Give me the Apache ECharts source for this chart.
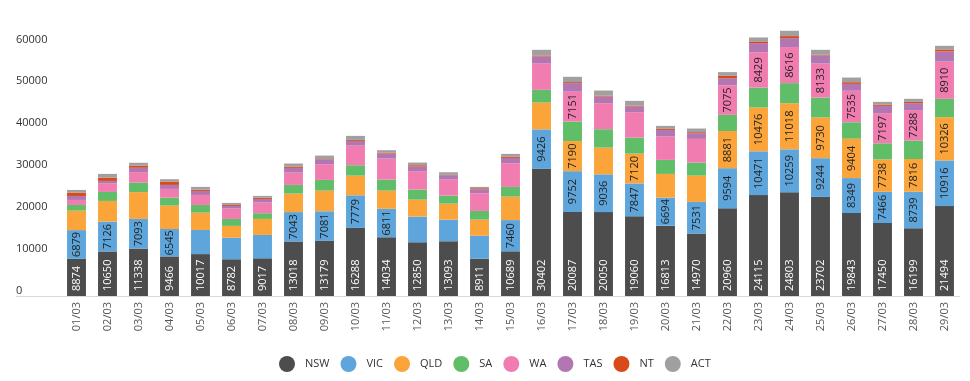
<!DOCTYPE html>
<html>
<head>
<meta charset="utf-8">
<script src="https://cdn.jsdelivr.net/npm/echarts@6/dist/echarts.min.js"></script>
<style>
html,body{margin:0;padding:0;background:#fff;}
#chart{width:970px;height:381px;}
</style>
</head>
<body>
<div id="chart"></div>
<script>
const categories = ['01/03','02/03','03/03','04/03','05/03','06/03','07/03','08/03','09/03','10/03','11/03','12/03','13/03','14/03','15/03','16/03','17/03','18/03','19/03','20/03','21/03','22/03','23/03','24/03','25/03','26/03','27/03','28/03','29/03'];
const NSW = [8874,10650,11338,9466,10017,8782,9017,13018,13179,16288,14034,12850,13093,8911,10689,30402,20087,20050,19060,16813,14970,20960,24115,24803,23702,19843,17450,16199,21494];
const VIC = [6879,7126,7093,6545,5770,5170,5580,7043,7081,7779,6811,6130,5170,5520,7460,9426,9752,9036,7847,6694,7531,9594,10471,10259,9244,8349,7466,8739,10916];
const QLD = [4650,4950,6400,5600,4140,2800,3830,4420,4930,4710,4345,4060,3820,3830,5610,6420,7190,6390,7120,5680,6280,8881,10476,11018,9730,9404,7738,7816,10326];
const SA  = [1360,2150,2310,1910,1840,1670,1360,2075,2560,2480,2640,2400,1920,2070,2320,3030,4670,4390,3840,3350,3120,3870,4770,4810,4760,3930,3850,4400,4390];
const WA  = [1200,2080,2470,2080,2390,2480,2560,2950,3750,4690,5020,4390,3830,4230,5660,6380,7151,6220,6070,5580,5660,7075,8429,8616,8133,7535,7197,7288,8910];
const TAS = [950,550,1040,955,960,630,860,1120,1120,1130,1200,1110,1040,960,1270,1600,2040,1590,1350,1590,1360,1670,2200,2140,1920,1650,1750,1650,2410];
const NT  = [800,800,480,795,320,240,320,320,120,240,240,320,80,240,320,240,240,240,240,240,240,590,400,480,160,400,320,320,480];
const ACT = [640,880,720,560,640,480,400,720,830,960,560,640,630,320,640,1350,1270,1200,1120,720,870,880,940,1270,1200,1110,640,720,880];
const yTicks = [0,10000,20000,30000,40000,50000,60000];

const seriesNames = ['NSW','VIC','QLD','SA','WA','TAS','NT','ACT'];
const seriesData = [NSW,VIC,QLD,SA,WA,TAS,NT,ACT];
const colors = ['#4d4d4d','#5da5da','#faa43a','#60bd68','#f17cb0','#b276b2','#d84a18','#a0a0a0'];
const FONT = '"Open Sans", sans-serif';
const LABEL_MIN = 6500;

const chart = echarts.init(document.getElementById('chart'), null, {renderer:'canvas'});
const gridLeft = 61, gridRight = 10, gridTop = 45, gridBottom = 85;

const series = seriesNames.map((name, i) => {
  const isBase = i === 0;
  return {
    name: name,
    type: 'bar',
    stack: 'total',
    clip: false,
    barWidth: '61%',
    itemStyle: {color: colors[i]},
    emphasis: {disabled: true},
    data: seriesData[i],
    label: {
      show: i <= 4,
      rotate: 90,
      position: isBase ? 'insideBottom' : 'inside',
      distance: 5,
      align: isBase ? 'left' : 'center',
      verticalAlign: 'middle',
      fontFamily: FONT,
      fontSize: 11,
      color: isBase ? '#ffffff' : '#222222',
      formatter: p => (p.value >= LABEL_MIN ? String(p.value) : '')
    }
  };
});

chart.setOption({
  animation: false,
  color: colors,
  grid: {left: gridLeft, right: gridRight, top: gridTop, bottom: gridBottom, containLabel: false},
  legend: {
    data: seriesNames,
    left: 279,
    top: 356,
    padding: 0,
    icon: 'circle',
    itemWidth: 16,
    itemHeight: 16,
    itemGap: 11,
    textStyle: {fontFamily: FONT, fontSize: 11, color: '#333', padding: [0,0,0,5]}
  },
  xAxis: {
    type: 'category',
    data: categories,
    axisLine: {show: false},
    axisTick: {show: false},
    axisLabel: {rotate: 90, margin: 6, fontFamily: FONT, fontSize: 11, color: '#555', interval: 0}
  },
  yAxis: {
    type: 'value',
    min: yTicks[0],
    max: yTicks[yTicks.length - 1],
    interval: yTicks[1] - yTicks[0],
    splitLine: {show: false},
    axisLine: {show: false},
    axisTick: {show: false},
    axisLabel: {
      align: 'left',
      verticalAlign: 'bottom',
      margin: gridLeft - 16,
      fontFamily: FONT,
      fontSize: 11,
      color: '#333',
      formatter: v => String(v)
    }
  },
  series: series
});

const y0 = chart.convertToPixel({yAxisIndex: 0}, 0);
chart.setOption({
  graphic: [{
    type: 'line',
    z: 0,
    shape: {x1: 16, y1: Math.round(y0) + 0.5, x2: 970 - gridRight, y2: Math.round(y0) + 0.5},
    style: {stroke: '#d9d9d9', lineWidth: 1}
  }]
});
</script>
</body>
</html>
